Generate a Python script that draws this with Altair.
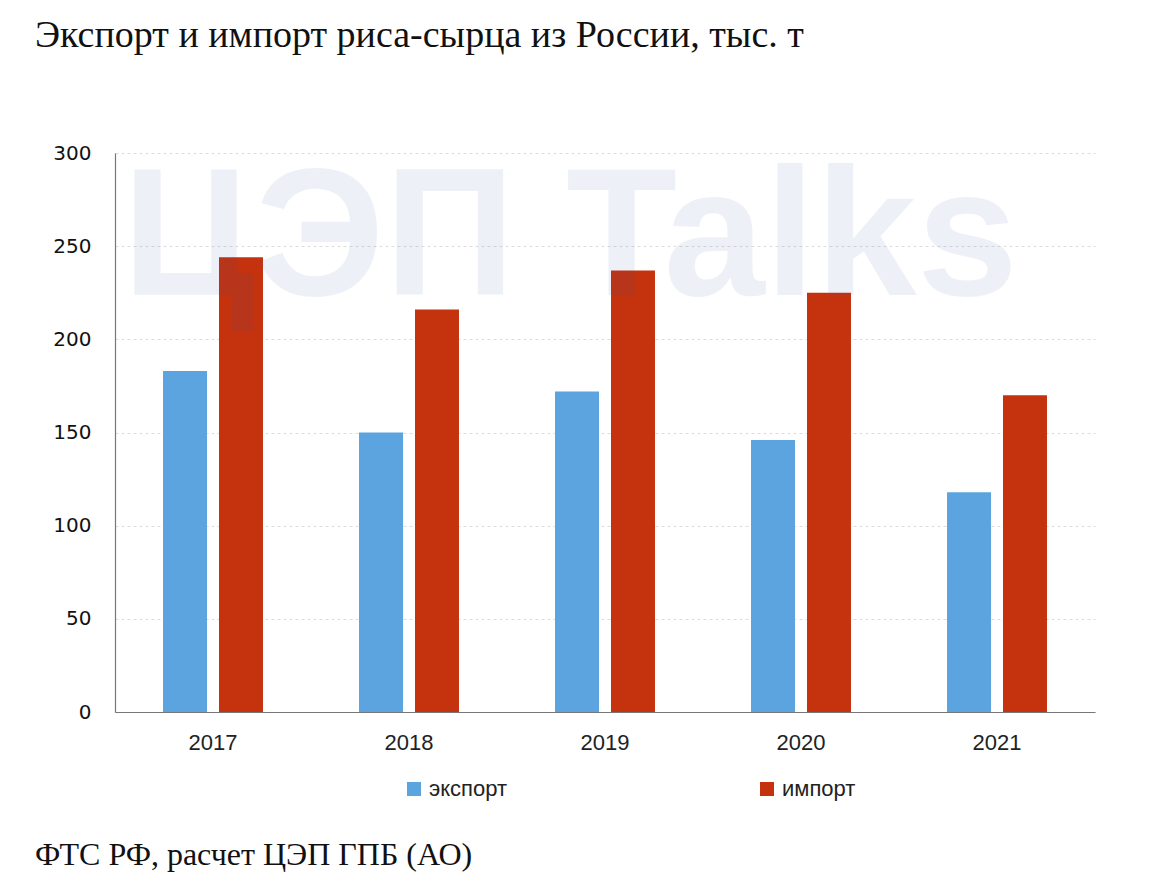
import altair as alt
import pandas as pd

years = ["2017", "2018", "2019", "2020", "2021"]
export_vals = [183, 150, 172, 146, 118]
import_vals = [244, 216, 237, 225, 170]
series_names = ["экспорт", "импорт"]
series_colors = ["#5BA4DF", "#C4320E"]
y_ticks = [0, 50, 100, 150, 200, 250, 300]

title_text = "Экспорт и импорт риса-сырца из России, тыс. т"
source_text = "ФТС РФ, расчет ЦЭП ГПБ (АО)"
watermark_text = "ЦЭП Talks"

rows = []
for i, yr in enumerate(years):
    rows.append({"year": yr, "series": series_names[0], "value": export_vals[i]})
    rows.append({"year": yr, "series": series_names[1], "value": import_vals[i]})
df = pd.DataFrame(rows)

W, H = 980, 559

wm_df = pd.DataFrame({"t": [watermark_text]})
watermark = alt.Chart(wm_df).mark_text(
    font="Liberation Sans", fontWeight="bold", fontSize=182,
    color="#2a5ca8", opacity=0.08,
    align="center", baseline="middle"
).encode(x=alt.value(455), y=alt.value(87), text="t:N")

bars = alt.Chart(df).mark_bar().encode(
    x=alt.X("year:N", sort=years,
            scale=alt.Scale(paddingInner=0.49, paddingOuter=0.245),
            axis=alt.Axis(title=None, labelAngle=0, labelFontSize=22,
                          labelFont="Liberation Sans",
                          labelColor="#222222", labelPadding=20, ticks=False,
                          domainColor="#777777", domainWidth=1.2)),
    xOffset=alt.XOffset("series:N", sort=series_names,
                        scale=alt.Scale(paddingInner=0.214, paddingOuter=0)),
    y=alt.Y("value:Q", scale=alt.Scale(domain=[0, 300], nice=False),
            axis=alt.Axis(title=None, values=y_ticks, labelFontSize=20,
                          labelFont="DejaVu Sans", labelColor="#111111",
                          labelPadding=24, ticks=False, grid=True,
                          gridDash=[3, 3], gridColor="#dddddd",
                          domainColor="#777777", domainWidth=1.2)),
    color=alt.Color("series:N", sort=series_names,
                    scale=alt.Scale(domain=series_names, range=series_colors),
                    legend=alt.Legend(title=None, orient="none", direction="horizontal",
                                      legendX=288, legendY=625,
                                      symbolType="square", symbolSize=196,
                                      symbolStrokeWidth=0, symbolOpacity=1,
                                      labelFontSize=22,
                                      labelFont="Liberation Sans",
                                      labelColor="#222222", columnPadding=248,
                                      labelOffset=4)),
)

title_df = pd.DataFrame({"t": [title_text]})
title = alt.Chart(title_df).mark_text(
    font="Liberation Serif", fontSize=38, color="#111111",
    align="left", baseline="middle"
).encode(x=alt.value(-80), y=alt.value(-117), text="t:N")

src_df = pd.DataFrame({"t": [source_text]})
source = alt.Chart(src_df).mark_text(
    font="Liberation Serif", fontSize=32, color="#111111",
    align="left", baseline="middle"
).encode(x=alt.value(-80), y=alt.value(702), text="t:N")

chart = alt.layer(bars, watermark, title, source).properties(
    width=W, height=H,
    autosize=alt.AutoSizeParams(type="none"),
    padding={"left": 115, "top": 153, "right": 75, "bottom": 173},
).configure(background="white").configure_view(stroke="transparent", strokeWidth=0)

chart.save("out.html", embed_options={"renderer": "svg", "actions": False})
